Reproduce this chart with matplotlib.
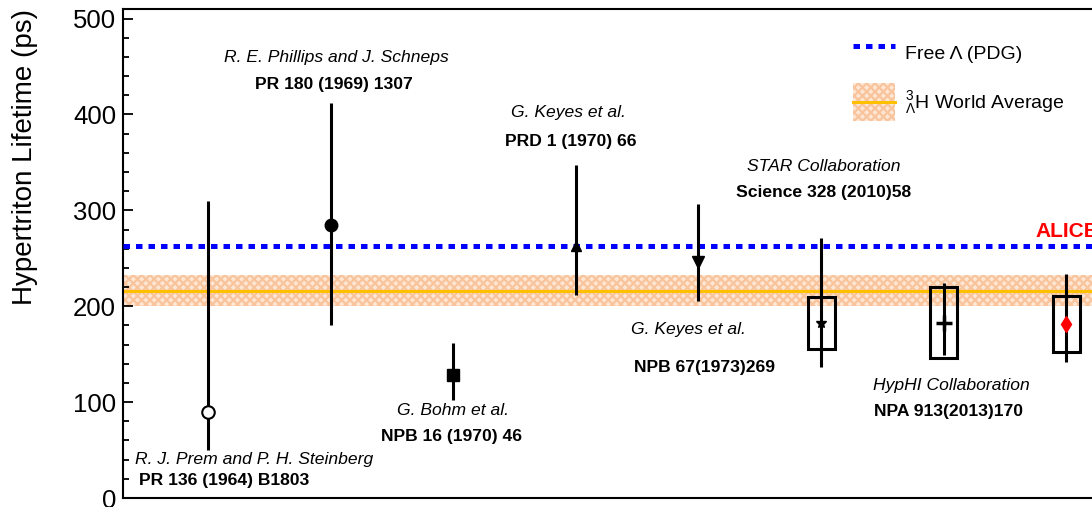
import matplotlib
matplotlib.use("Agg")
import matplotlib.pyplot as plt
from matplotlib.lines import Line2D
from matplotlib.patches import Patch, Rectangle
from matplotlib.ticker import MultipleLocator

plt.rcParams['font.family'] = ['Liberation Sans', 'DejaVu Sans']
plt.rcParams['mathtext.fontset'] = 'custom'
plt.rcParams['mathtext.rm'] = 'Liberation Sans'
plt.rcParams['mathtext.it'] = 'Liberation Sans:italic'
plt.rcParams['hatch.linewidth'] = 1.6

#-------------------------------------------------------------------------------
# Data (hypertriton lifetime measurements, ps)

authors = ["R. J. Prem and P. H. Steinberg", "R. E. Phillips and J. Schneps",
           "G. Bohm et al.", "G. Keyes et al.", "G. Keyes et al.",
           "STAR Collaboration", "HypHI Collaboration", ""]
refs = ["PR 136 (1964) B1803", "PR 180 (1969) 1307", "NPB 16 (1970) 46",
        "PRD 1 (1970) 66", "NPB 67(1973)269", "Science 328 (2010)58",
        "NPA 913(2013)170", "ALICE"]
lifetime = [90, 285, 128, 263, 246, 182, 183, 181]
err_lo = [40, 105, 26, 51, 41, 45, 34, 39]
err_hi = [220, 127, 34, 84, 61, 89, 41, 53]
# systematic boxes for the three most recent results
syst_idx = [5, 6, 7]
syst_lo = [155, 146, 152]
syst_hi = [210, 220, 211]

free_lambda = 263.2
world_avg = 216
world_avg_lo = 16
world_avg_hi = 17

#-------------------------------------------------------------------------------
# Styles / layout

marker_styles = [
  dict(marker="o", mfc="white", mec="black", ms=9, mew=1.5),
  dict(marker="o", mfc="black", mec="black", ms=9),
  dict(marker="s", mfc="black", mec="black", ms=8),
  dict(marker="^", mfc="black", mec="black", ms=7),
  dict(marker="v", mfc="black", mec="black", ms=8),
  dict(marker="*", mfc="black", mec="black", ms=8),
  dict(marker="+", mfc="black", mec="black", ms=12, mew=2.5),
  dict(marker="d", mfc="red", mec="red", ms=8),
]
# (x, y) of author line and reference line, in data coords
author_pos = [(0.375, 40), (1.05, 459), (2.0, 91), (2.94, 402), (3.92, 176),
              (5.02, 346), (6.06, 117), None]
ref_pos = [(0.13, 18), (1.03, 431), (1.99, 64), (2.96, 372), (4.05, 136),
           (5.02, 319), (6.04, 90), (6.75, 278)]

band_face = "#fde6d4"
band_edge = "#f9c49c"
avg_color = "#ffc000"

class BandHandler:
  """ Legend handle: hatched band with the average line through its middle.
  """
  def legend_artist(self, legend, orig_handle, fontsize, handlebox):
    x0, y0 = handlebox.xdescent, handlebox.ydescent
    w, h = handlebox.width, handlebox.height
    tr = handlebox.get_transform()
    rect = Rectangle((-x0, -y0), w, h, facecolor=band_face, edgecolor=band_edge,
                     hatch="xxxx", lw=0, transform=tr)
    line = Line2D([-x0, -x0 + w], [-y0 + h/2, -y0 + h/2], color=avg_color,
                  lw=2.2, transform=tr)
    handlebox.add_artist(rect)
    handlebox.add_artist(line)
    return rect

def main():
  fig = plt.figure(figsize=(10.92, 5.07), dpi=100)
  ax = fig.add_axes([123/1092, 9/507, 1027/1092, 489/507])

  x_min, x_max = -0.693, 7.683
  ax.set_xlim(x_min, x_max)
  ax.set_ylim(0, 510)

  # world average band and line
  ax.fill_between([x_min, x_max], world_avg - world_avg_lo, world_avg + world_avg_hi,
                  facecolor=band_face, edgecolor=band_edge, hatch="xxxx", lw=0, zorder=1)
  ax.axhline(world_avg, color=avg_color, lw=2.2, zorder=2)
  ax.axhline(free_lambda, color="#0000ff", lw=3.6, ls=(0, (1.3, 1.2)),
             dash_capstyle="butt", zorder=3)

  for i, y in enumerate(lifetime):
    ax.errorbar([i], [y], yerr=[[err_lo[i]], [err_hi[i]]], color="black",
                elinewidth=2.2, capsize=0, ls="", zorder=5, **marker_styles[i])

  for k, i in enumerate(syst_idx):
    ax.add_patch(Rectangle((i - 0.11, syst_lo[k]), 0.22, syst_hi[k] - syst_lo[k],
                           fill=False, ec="black", lw=2.2, zorder=4))

  for i in range(len(lifetime)):
    if author_pos[i] is not None:
      ax.text(author_pos[i][0], author_pos[i][1], authors[i], style="italic",
              fontsize=12.6, ha="center", va="center")
    if refs[i] == "ALICE":
      ax.text(ref_pos[i][0], ref_pos[i][1], refs[i], color="red", weight="bold",
              fontsize=15, ha="left", va="center")
    else:
      ax.text(ref_pos[i][0], ref_pos[i][1], refs[i], weight="bold",
              fontsize=12.6, ha="center", va="center")

  # axes style
  ax.set_ylabel("Hypertriton Lifetime (ps)", fontsize=20, loc="top")
  ax.yaxis.set_label_coords(-85/1027, 1.0)
  ax.yaxis.set_major_locator(MultipleLocator(100))
  ax.yaxis.set_minor_locator(MultipleLocator(20))
  ax.tick_params(axis="y", which="both", direction="in", labelsize=18.5, width=1.3, pad=5)
  ax.tick_params(axis="y", which="major", length=7)
  ax.tick_params(axis="y", which="minor", length=4)
  ax.tick_params(axis="x", which="both", bottom=False, labelbottom=False)
  for sp in ax.spines.values():
    sp.set_linewidth(1.5)

  # legend
  h_free = Line2D([], [], color="#0000ff", lw=3.6, ls=(0, (1.3, 1.2)), dash_capstyle="butt")
  h_band = Patch()
  ax.legend([h_free, h_band],
            ["Free \u039b (PDG)", r"$^{3}_{\mathrm{\Lambda}}$H World Average"],
            handler_map={Patch: BandHandler()},
            loc="upper left", bbox_to_anchor=(853/1092, 1 - 34/507),
            bbox_transform=fig.transFigure, frameon=False, fontsize=14,
            borderpad=0, borderaxespad=0, handlelength=2.15, handleheight=2.63,
            handletextpad=0.5, labelspacing=0.57)

  fig.savefig("out.png", dpi=100)
  plt.close(fig)

if __name__ == "__main__":
  main()
